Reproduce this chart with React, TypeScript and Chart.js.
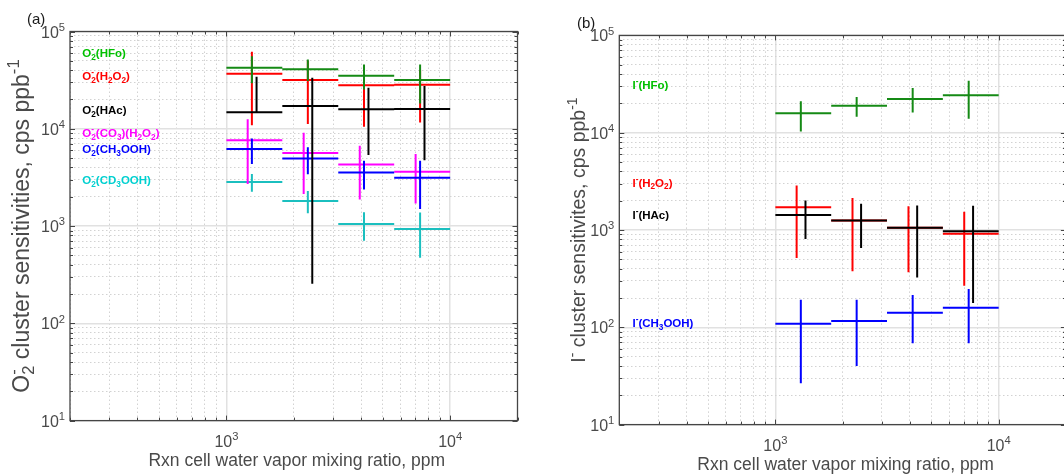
import React, { useEffect, useRef } from 'react';
import { Chart, registerables } from 'chart.js';

Chart.register(...registerables);

const FONT = '"Liberation Sans", Arial, Helvetica, sans-serif';

// ---------------- data ----------------
// water vapour bins (ppm)
const binEdges = [1000, 1778, 3162, 5623, 10000];
// x positions of the vertical error bars (ppm)
const xLeft = [1245, 2215, 3945, 7010];
const xMid = [1300, 2312, 4120, 7340];
const xRight = [1364, 2420, 4315, 7680];

// panel (a): O2- clusters, cps/ppb
const o2HFo = [42400, 40800, 35000, 31700];
const o2HFoLo = [29300, 31000, 25400, 18200];
const o2HFoHi = [55800, 51600, 45900, 45900];

const o2H2O2 = [36700, 31700, 28100, 28300];
const o2H2O2Lo = [10900, 11200, 10500, 11600];
const o2H2O2Hi = [61800, 50000, 45000, 40000];

const o2HAc = [14800, 17100, 15900, 16000];
const o2HAcLo = [14800, 255, 5370, 4760];
const o2HAcHi = [34200, 33400, 26400, 27500];

const o2CO3H2O2 = [7610, 5620, 4300, 3610];
const o2CO3H2O2Lo = [2700, 2130, 1880, 1710];
const o2CO3H2O2Hi = [12500, 9100, 6680, 5500];

const o2CH3OOH = [6180, 4960, 3560, 3130];
const o2CH3OOHLo = [4340, 3400, 2380, 1500];
const o2CH3OOHHi = [7960, 6440, 4690, 4690];

const o2CD3OOH = [2830, 1810, 1050, 931];
const o2CD3OOHLo = [2250, 1350, 708, 472];
const o2CD3OOHHi = [3420, 2290, 1390, 1380];

// panel (b): I- clusters, cps/ppb
const iHFo = [15800, 18900, 22200, 24200];
const iHFoLo = [10300, 14600, 16100, 13900];
const iHFoHi = [21000, 23300, 28800, 34200];

const iH2O2 = [1710, 1255, 1056, 916];
const iH2O2Lo = [515, 376, 367, 268];
const iH2O2Hi = [2870, 2130, 1750, 1540];

const iHAc = [1427, 1255, 1056, 968];
const iHAcLo = [808, 653, 324, 178];
const iHAcHi = [2010, 1860, 1790, 1770];

const iCH3OOH = [109, 116, 141, 159];
const iCH3OOHLo = [26.6, 40, 68.6, 68.6];
const iCH3OOHHi = [192, 192, 215, 248];

// axes
const xMin = 200;
const xMax = 20000;
const yMin = 10;
const yMax = 100000;

const xTitle = 'Rxn cell water vapor mixing ratio, ppm';
const yTitleA = 'O^{-}_{2} cluster sensitivities, cps ppb^{-1}';
const yTitleB = 'I^{-} cluster sensitivites, cps ppb^{-1}';

// ---------------- styles ----------------
const GREEN = '#158a15';
const GREEN_T = '#00c000';
const RED = '#ff0000';
const BLACK = '#000000';
const MAGENTA = '#ff00ff';
const BLUE = '#0000ff';
const CYAN = '#1bbfbf';
const CYAN_T = '#00d0d0';
const AXIS = '#454545';
const TEXT = '#4a4a4a';

// ---------------- helpers ----------------
const isMajor = (v: number) => Math.abs(Math.log10(v) - Math.round(Math.log10(v))) < 1e-9;

function logTicks(min: number, max: number) {
  const out: number[] = [];
  for (let e = Math.floor(Math.log10(min)); e <= Math.ceil(Math.log10(max)); e++) {
    for (let m = 1; m < 10; m++) {
      const v = m * Math.pow(10, e);
      if (v >= min * 0.999 && v <= max * 1.001) out.push(v);
    }
  }
  return out;
}

type Seg = { t: string; k: 'n' | 'sup' | 'sub'; pair?: { t: string; k: 'sup' | 'sub' } };

function texSegs(s: string): Seg[] {
  const segs: Seg[] = [];
  let buf = '';
  let i = 0;
  while (i < s.length) {
    const c = s[i];
    if ((c === '^' || c === '_') && s[i + 1] === '{') {
      const end = s.indexOf('}', i + 2);
      const content = s.slice(i + 2, end);
      if (buf) {
        segs.push({ t: buf, k: 'n' });
        buf = '';
      }
      const k: 'sup' | 'sub' = c === '^' ? 'sup' : 'sub';
      const prev = segs[segs.length - 1];
      if (prev && prev.k !== 'n' && prev.k !== k && !prev.pair && i > 0 && s[i - 1] === '}') {
        prev.pair = { t: content, k };
      } else {
        segs.push({ t: content, k });
      }
      i = end + 1;
    } else {
      buf += c;
      i++;
    }
  }
  if (buf) segs.push({ t: buf, k: 'n' });
  return segs;
}

function drawTex(
  ctx: CanvasRenderingContext2D,
  s: string,
  x: number,
  y: number,
  size: number,
  color: string,
  weight: string,
  align: 'left' | 'center' | 'right',
  scriptScale = 0.72
) {
  const segs = texSegs(s);
  const fN = `${weight} ${size}px ${FONT}`;
  const fS = `${weight} ${size * scriptScale}px ${FONT}`;
  const widths = segs.map((sg) => {
    ctx.font = sg.k === 'n' ? fN : fS;
    let w = ctx.measureText(sg.t).width;
    if (sg.pair) w = Math.max(w, ctx.measureText(sg.pair.t).width);
    return w;
  });
  const total = widths.reduce((a, b) => a + b, 0);
  let cx = align === 'left' ? x : align === 'center' ? x - total / 2 : x - total;
  ctx.fillStyle = color;
  ctx.textAlign = 'left';
  ctx.textBaseline = 'alphabetic';
  const put = (t: string, k: string) => {
    ctx.font = k === 'n' ? fN : fS;
    const dy = k === 'sup' ? -size * 0.42 : k === 'sub' ? size * 0.24 : 0;
    ctx.fillText(t, cx, y + dy);
  };
  segs.forEach((sg, i) => {
    put(sg.t, sg.k);
    if (sg.pair) put(sg.pair.t, sg.pair.k);
    cx += widths[i];
  });
}

type Series = {
  name: string;
  color: string;
  xs: number[];
  y: number[];
  lo: number[];
  hi: number[];
};

function crossData(sr: Series) {
  const pts: { x: number; y: number | null }[] = [];
  for (let i = 0; i < sr.y.length; i++) {
    pts.push({ x: binEdges[i], y: sr.y[i] });
    pts.push({ x: binEdges[i + 1], y: sr.y[i] });
    pts.push({ x: binEdges[i + 1], y: null });
    pts.push({ x: sr.xs[i], y: sr.lo[i] });
    pts.push({ x: sr.xs[i], y: sr.hi[i] });
    pts.push({ x: sr.xs[i], y: null });
  }
  return pts;
}

type Note = { tex: string; color: string; x: number; y: number };

type PanelCfg = {
  padding: { left: number; right: number; top: number; bottom: number };
  series: Series[];
  notes: Note[];
  yTitle: string;
  yTitleX: number;
  yTitleSize: number;
  tag: string;
  tagX: number;
  tagY: number;
};

const seriesA: Series[] = [
  { name: 'O2-(HFo)', color: GREEN, xs: xMid, y: o2HFo, lo: o2HFoLo, hi: o2HFoHi },
  { name: 'O2-(HAc)', color: BLACK, xs: xRight, y: o2HAc, lo: o2HAcLo, hi: o2HAcHi },
  { name: 'O2-(CH3OOH)', color: BLUE, xs: xMid, y: o2CH3OOH, lo: o2CH3OOHLo, hi: o2CH3OOHHi },
  { name: 'O2-(CO3)(H2O2)', color: MAGENTA, xs: xLeft, y: o2CO3H2O2, lo: o2CO3H2O2Lo, hi: o2CO3H2O2Hi },
  { name: 'O2-(CD3OOH)', color: CYAN, xs: xMid, y: o2CD3OOH, lo: o2CD3OOHLo, hi: o2CD3OOHHi },
  { name: 'O2-(H2O2)', color: RED, xs: xMid, y: o2H2O2, lo: o2H2O2Lo, hi: o2H2O2Hi },
];

const seriesB: Series[] = [
  { name: 'I-(HFo)', color: GREEN, xs: xMid, y: iHFo, lo: iHFoLo, hi: iHFoHi },
  { name: 'I-(HAc)', color: BLACK, xs: xRight, y: iHAc, lo: iHAcLo, hi: iHAcHi },
  { name: 'I-(H2O2)', color: RED, xs: xLeft, y: iH2O2, lo: iH2O2Lo, hi: iH2O2Hi },
  { name: 'I-(CH3OOH)', color: BLUE, xs: xMid, y: iCH3OOH, lo: iCH3OOHLo, hi: iCH3OOHHi },
];

const notesA: Note[] = [
  { tex: 'O^{-}_{2}(HFo)', color: GREEN_T, x: 227, y: 60000 },
  { tex: 'O^{-}_{2}(H_{2}O_{2})', color: RED, x: 227, y: 34800 },
  { tex: 'O^{-}_{2}(HAc)', color: BLACK, x: 227, y: 15600 },
  { tex: 'O^{-}_{2}(CO_{3})(H_{2}O_{2})', color: MAGENTA, x: 227, y: 9030 },
  { tex: 'O^{-}_{2}(CH_{3}OOH)', color: BLUE, x: 227, y: 6180 },
  { tex: 'O^{-}_{2}(CD_{3}OOH)', color: CYAN_T, x: 227, y: 2970 },
];

const notesB: Note[] = [
  { tex: 'I^{-}(HFo)', color: GREEN_T, x: 229, y: 30900 },
  { tex: 'I^{-}(H_{2}O_{2})', color: RED, x: 229, y: 3060 },
  { tex: 'I^{-}(HAc)', color: BLACK, x: 229, y: 1436 },
  { tex: 'I^{-}(CH_{3}OOH)', color: BLUE, x: 229, y: 111 },
];

const panelA: PanelCfg = {
  padding: { left: 70, right: 22.5, top: 31.5, bottom: 53.4 },
  series: seriesA,
  notes: notesA,
  yTitle: yTitleA,
  yTitleX: 28.5,
  yTitleSize: 23,
  tag: '(a)',
  tagX: 27,
  tagY: 24,
};

const panelB: PanelCfg = {
  padding: { left: 64.3, right: 14.1, top: 35.4, bottom: 49.4 },
  series: seriesB,
  notes: notesB,
  yTitle: yTitleB,
  yTitleX: 30,
  yTitleSize: 19.5,
  tag: '(b)',
  tagX: 22,
  tagY: 27.5,
};

function axisCfg(min: number, max: number, which: 'x' | 'y') {
  return {
    type: 'logarithmic' as const,
    min,
    max,
    display: true,
    afterBuildTicks: (s: any) => {
      s.ticks = logTicks(min, max).map((v) => ({ value: v, major: isMajor(v) }));
    },
    afterFit: (s: any) => {
      if (which === 'x') s.height = 0;
      else s.width = 0;
    },
    ticks: { display: false, autoSkip: false },
    grid: {
      display: true,
      drawTicks: false,
      tickLength: 0,
      color: (c: any) => (c.tick && isMajor(c.tick.value) ? '#e1e1e1' : '#d2d2d2'),
      lineWidth: (c: any) => (c.tick && isMajor(c.tick.value) ? 1.5 : 1),
    },
    border: {
      display: false,
      dash: (c: any) => (c.tick && !isMajor(c.tick.value) ? [1.5, 2.5] : []),
    },
  };
}

function buildChart(canvas: HTMLCanvasElement, cfg: PanelCfg) {
  const framePlugin = {
    id: 'frame',
    afterDatasetsDraw(chart: any) {
      const { ctx, chartArea } = chart;
      const { left, right, top, bottom } = chartArea;
      const xs = chart.scales.x;
      const ys = chart.scales.y;
      ctx.save();
      ctx.strokeStyle = AXIS;
      ctx.lineWidth = 1;
      ctx.beginPath();
      for (const t of xs.ticks) {
        const px = Math.round(xs.getPixelForValue(t.value)) + 0.5;
        const L = isMajor(t.value) ? 5 : 3;
        ctx.moveTo(px, bottom);
        ctx.lineTo(px, bottom - L);
        ctx.moveTo(px, top);
        ctx.lineTo(px, top + L);
      }
      for (const t of ys.ticks) {
        const py = Math.round(ys.getPixelForValue(t.value)) + 0.5;
        const L = isMajor(t.value) ? 5 : 3;
        ctx.moveTo(left, py);
        ctx.lineTo(left + L, py);
        ctx.moveTo(right, py);
        ctx.lineTo(right - L, py);
      }
      ctx.stroke();
      ctx.lineWidth = 1.3;
      ctx.strokeRect(left, top, right - left, bottom - top);
      ctx.restore();
    },
    afterDraw(chart: any) {
      const { ctx, chartArea } = chart;
      const { left, right, top, bottom } = chartArea;
      const xs = chart.scales.x;
      const ys = chart.scales.y;
      ctx.save();
      // tick labels
      for (const t of xs.ticks) {
        if (!isMajor(t.value)) continue;
        const px = xs.getPixelForValue(t.value);
        const e = Math.round(Math.log10(t.value));
        drawTex(ctx, `10^{${e}}`, px, bottom + 26, 16, TEXT, 'normal', 'center', 0.7);
      }
      for (const t of ys.ticks) {
        if (!isMajor(t.value)) continue;
        const py = ys.getPixelForValue(t.value);
        const e = Math.round(Math.log10(t.value));
        drawTex(ctx, `10^{${e}}`, left - 5, py + 6, 16, TEXT, 'normal', 'right', 0.7);
      }
      // x title
      drawTex(ctx, xTitle, (left + right) / 2 + 3, bottom + 45, 17.5, TEXT, 'normal', 'center');
      // y title
      ctx.save();
      ctx.translate(cfg.yTitleX, (top + bottom) / 2);
      ctx.rotate(-Math.PI / 2);
      drawTex(ctx, cfg.yTitle, 0, 0, cfg.yTitleSize, TEXT, 'normal', 'center');
      ctx.restore();
      // series labels
      for (const n of cfg.notes) {
        const px = xs.getPixelForValue(n.x);
        const py = ys.getPixelForValue(n.y);
        drawTex(ctx, n.tex, px, py + 4, 11.5, n.color, 'bold', 'left');
      }
      // panel tag
      drawTex(ctx, cfg.tag, cfg.tagX, cfg.tagY, 15, '#1a1a1a', 'normal', 'left');
      ctx.restore();
    },
  };

  return new Chart(canvas, {
    type: 'line',
    data: {
      datasets: cfg.series.map((sr) => ({
        label: sr.name,
        data: crossData(sr) as any,
        borderColor: sr.color,
        backgroundColor: sr.color,
        borderWidth: 2,
        pointRadius: 0,
        pointHoverRadius: 0,
        spanGaps: false,
        tension: 0,
        fill: false,
      })),
    },
    options: {
      animation: false,
      responsive: false,
      maintainAspectRatio: false,
      events: [],
      layout: { padding: cfg.padding, autoPadding: false } as any,
      plugins: {
        legend: { display: false },
        tooltip: { enabled: false },
        title: { display: false },
      },
      scales: {
        x: axisCfg(xMin, xMax, 'x') as any,
        y: axisCfg(yMin, yMax, 'y') as any,
      },
    },
    plugins: [framePlugin],
  });
}

function Panel({ cfg, left, width }: { cfg: PanelCfg; left: number; width: number }) {
  const ref = useRef<HTMLCanvasElement | null>(null);
  useEffect(() => {
    if (!ref.current) return;
    const chart = buildChart(ref.current, cfg);
    return () => chart.destroy();
  }, [cfg]);
  return (
    <canvas
      ref={ref}
      width={width}
      height={474}
      style={{ position: 'absolute', left, top: 0, width, height: 474 }}
    />
  );
}

export default function App() {
  return (
    <div
      style={{
        position: 'fixed',
        left: 0,
        top: 0,
        width: 1064,
        height: 474,
        overflow: 'hidden',
        background: '#ffffff',
      }}
    >
      <Panel cfg={panelA} left={0} width={540} />
      <Panel cfg={panelB} left={555} width={525} />
    </div>
  );
}
